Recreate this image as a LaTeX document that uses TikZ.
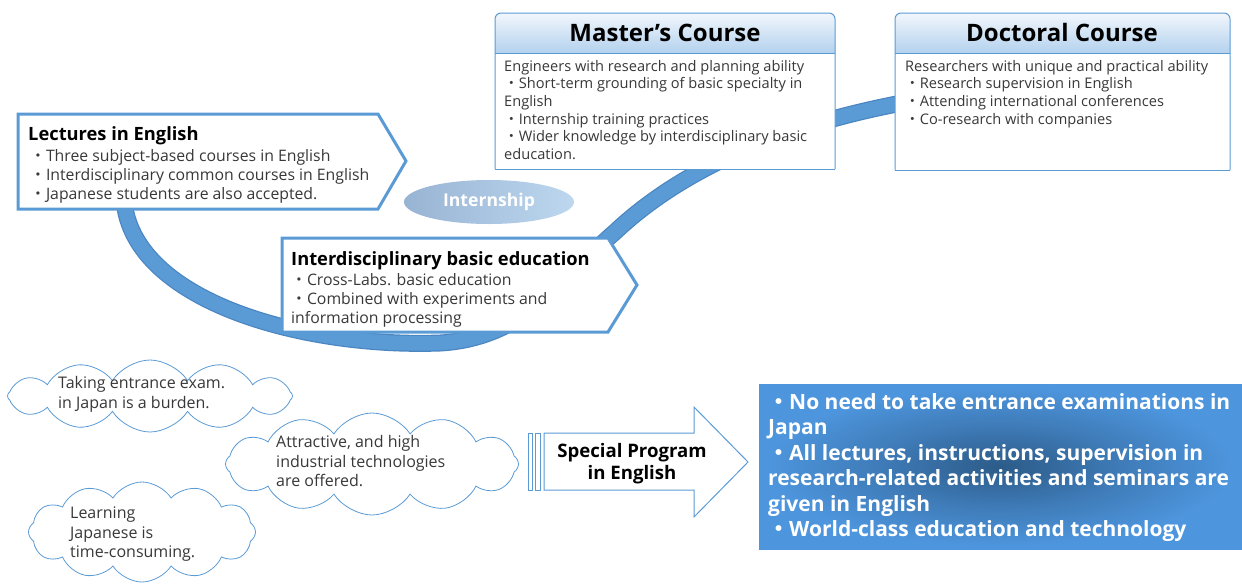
\documentclass[tikz,border=0pt]{standalone}
\usepackage{fontspec}
\setmainfont{Open Sans}
\newfontfamily\cjk{Noto Sans CJK JP}
\usetikzlibrary{shapes.geometric,shapes.symbols}

\definecolor{lineblue}{HTML}{5B9BD5}
\definecolor{bandedge}{HTML}{4A86C2}
\definecolor{headtop}{HTML}{F2F7FC}
\definecolor{headbot}{HTML}{B3D1EE}
\definecolor{ellleft}{HTML}{98B4D3}
\definecolor{ellright}{HTML}{BDD7EF}
\definecolor{boxout}{HTML}{4D95DD}
\definecolor{boxmid}{HTML}{3E7AB6}
\definecolor{boxin}{HTML}{2C5B88}
\definecolor{textgray}{HTML}{383838}

\pgfdeclareradialshading{meritshade}{\pgfpoint{0bp}{0bp}}{color(0bp)=(boxin); color(12bp)=(boxmid); color(24bp)=(boxout); color(50bp)=(boxout)}

\newcommand{\nk}{{\cjk ・}}

\tikzset{
  boxline/.style={draw=lineblue, line width=3pt, fill=white},
  thinbox/.style={draw=lineblue, line width=1pt},
  bigtitle/.style={font=\bfseries\fontsize{24}{28}\selectfont, text=black, anchor=base, inner sep=0},
  headtitle/.style={font=\bfseries\fontsize{18.3}{22}\selectfont, text=black, anchor=north west, inner sep=0},
  bodytext/.style={font=\fontsize{15.8}{19}\selectfont, text=textgray, align=left, anchor=north west, inner sep=0},
  smalltext/.style={font=\fontsize{14.6}{17.6}\selectfont, text=textgray, align=left, anchor=north west, inner sep=0},
  cloudtext/.style={font=\fontsize{16}{19.5}\selectfont, text=textgray, align=left, anchor=north west, inner sep=0},
  cloudbox/.style={cloud, draw=lineblue, line width=0.8pt, fill=white, cloud puffs=12, cloud puff arc=115, cloud ignores aspect},
  whitetext/.style={font=\bfseries\fontsize{21}{25.5}\selectfont, text=white, align=left, anchor=north west, inner sep=0},
}

\begin{document}
\begin{tikzpicture}[x=1pt,y=-1pt]
	\useasboundingbox (0,0) rectangle (1242,584);

	% band
	\coordinate (b0) at (124,200);
	\coordinate (b1) at (440,343);
	\coordinate (b2) at (615,232);
	\coordinate (b3) at (902,103);
	\path[draw=bandedge, line width=17pt, postaction={draw=lineblue, line width=14.5pt}]
		(b0) .. controls (132,300) and (300,348) .. (b1)
		.. controls (530,338) and (570,270) .. (b2)
		.. controls (670,180) and (760,130) .. (b3);

	\draw[boxline] (18,114) -- (378,114) -- (406,161) -- (378,209) -- (18,209) -- cycle;
	\node[headtitle] (lect) at (28,126) {Lectures in English};
	\node[bodytext] (lectbody) at (30,149.5) {\nk Three subject-based courses in English\\
		\nk Interdisciplinary common courses in English\\
		\nk Japanese students are also accepted.};

	\node[ellipse, left color=ellleft, right color=ellright, minimum width=170pt, minimum height=44pt,
		inner sep=0, text=white, font=\bfseries\fontsize{17.6}{21}\selectfont] (intern) at (489,202) {Internship};

	\draw[boxline] (282,238) -- (608,238) -- (637,285) -- (608,332) -- (282,332) -- cycle;
	\node[headtitle] (inter) at (291,251) {Interdisciplinary basic education};
	\node[bodytext] (interbody) at (291,273.5) {\nk Cross-Labs. basic education\\
		\nk Combined with experiments and\\
		information processing};

	\fill[white, rounded corners=6] (495,169) -- (495,13) -- (835,13) -- (835,169);
	\shade[top color=headtop, bottom color=headbot, rounded corners=6] (495,53) -- (495,13) -- (835,13) -- (835,53);
	\draw[thinbox, rounded corners=6] (495,169) -- (495,13) -- (835,13) -- (835,169);
	\draw[thinbox] (495,169) -- (835,169);
	\draw[thinbox] (495,53) -- (835,53);
	\node[bigtitle] (master) at (665,41.5) {Master’s Course};
	\node[smalltext] (masterbody) at (504,60) {Engineers with research and planning ability\\
		\nk Short-term grounding of basic specialty in\\
		English\\
		\nk Internship training practices\\
		\nk Wider knowledge by interdisciplinary basic\\
		education.};

	\fill[white, rounded corners=6] (895,170) -- (895,13) -- (1230,13) -- (1230,170);
	\shade[top color=headtop, bottom color=headbot, rounded corners=6] (895,53) -- (895,13) -- (1230,13) -- (1230,53);
	\draw[thinbox, rounded corners=6] (895,170) -- (895,13) -- (1230,13) -- (1230,170);
	\draw[thinbox] (895,170) -- (1230,170);
	\draw[thinbox] (895,53) -- (1230,53);
	\node[bigtitle] (doctor) at (1062,41.5) {Doctoral Course};
	\node[smalltext] (doctorbody) at (905,60) {Researchers with unique and practical ability\\
		\nk Research supervision in English\\
		\nk Attending international conferences\\
		\nk Co-research with companies};

	\node[cloudbox, minimum width=285pt, minimum height=72pt] (cl1) at (150,396) {};
	\node[cloudtext] (cl1text) at (58,376.5) {Taking entrance exam.\\in Japan is a burden.};
	\node[cloudbox, minimum width=293pt, minimum height=102pt] (cl2) at (372,464) {};
	\node[cloudtext] (cl2text) at (276,435.5) {Attractive, and high\\industrial technologies\\are offered.};
	\node[cloudbox, minimum width=227pt, minimum height=100pt] (cl3) at (142,532) {};
	\node[cloudtext] (cl3text) at (70,507) {Learning\\Japanese is\\time-consuming.};

	\draw[thinbox, fill=white] (544,433) -- (694,433) -- (694,407) -- (748,462) -- (694,517) -- (694,490) -- (544,490) -- cycle;
	\draw[thinbox] (528,433) rectangle (532,490);
	\draw[thinbox] (535,433) rectangle (540,490);
	\node[align=center, font=\bfseries\fontsize{18.6}{22}\selectfont, inner sep=0] (special) at (632,464) {Special Program\\in English};

	\shade[shading=meritshade] (759,384) rectangle (1242,549);
	\node[whitetext] (merit) at (768,393) {\nk No need to take entrance examinations in\\
		Japan\\
		\nk All lectures, instructions, supervision in\\
		research-related activities and seminars are\\
		given in English\\
		\nk World-class education and technology};

\end{tikzpicture}
\end{document}
